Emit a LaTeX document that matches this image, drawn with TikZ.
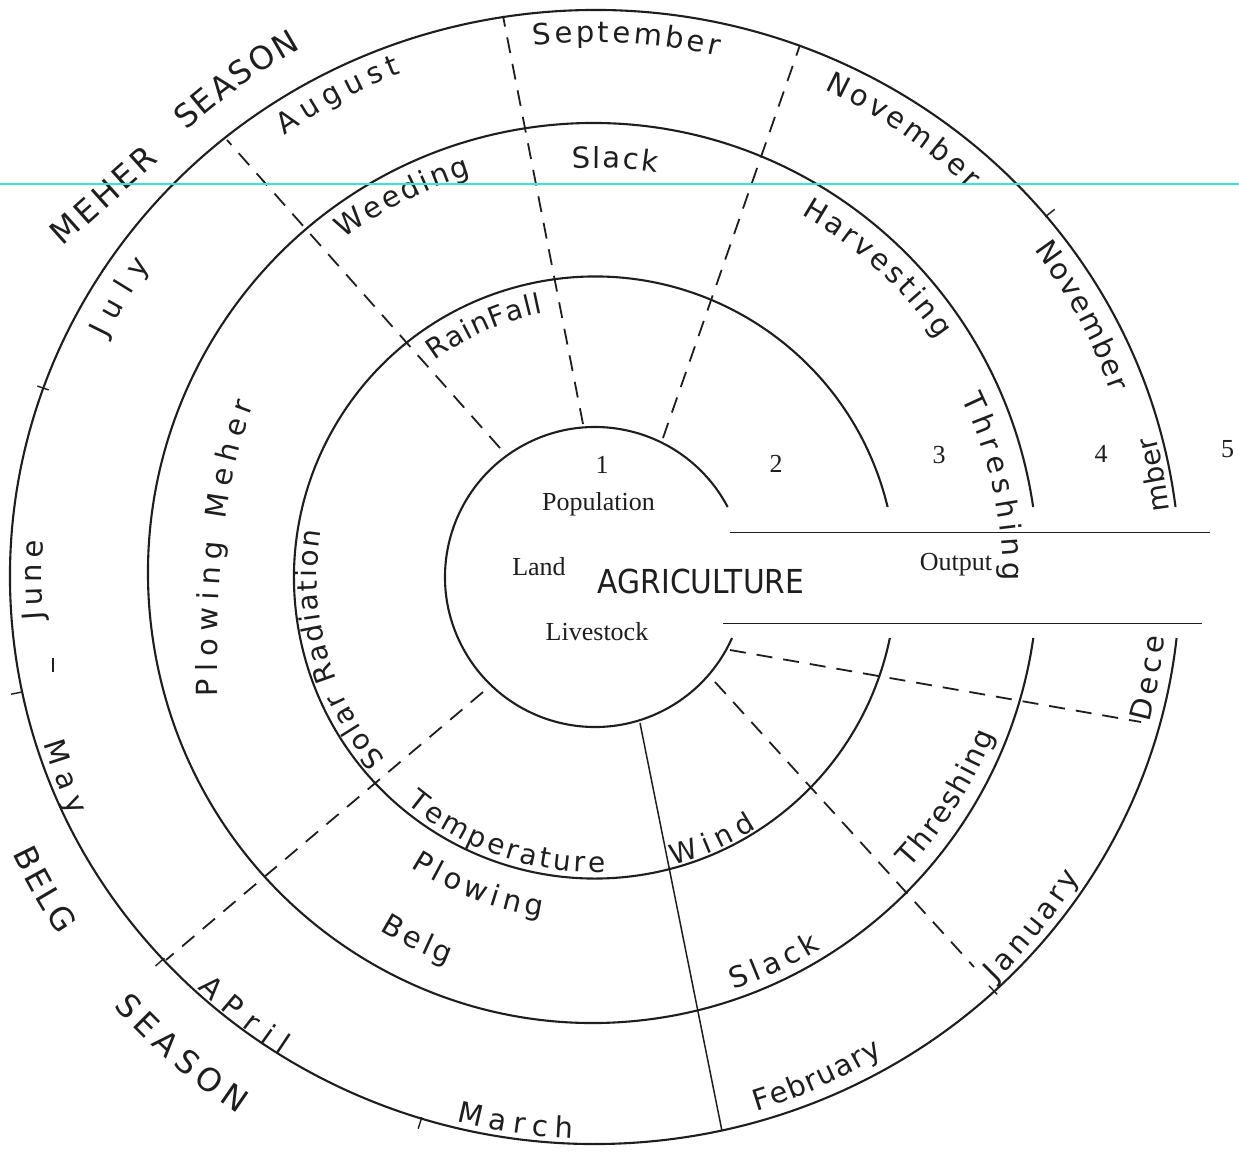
\documentclass[tikz,border=0pt]{standalone}
\usepackage{fontspec}
\usepackage{graphicx}
\setmainfont{Liberation Serif}
\newfontfamily\lett{DejaVu Sans}
\usetikzlibrary{decorations.text,calc}
\definecolor{guide}{RGB}{60,225,215}
\definecolor{ink}{RGB}{30,30,30}
\newcommand\ArcLbl[5]{\path[decorate,decoration={text along path,text align={fit to path},text color=ink,text={|\lett\fontsize{#5}{#5}\selectfont|#1}}] (#2:#4) arc[start angle=#2,end angle=#3,radius=#4];}
\tikzset{
  ring/.style={line width=2.1pt, draw=ink},
  dashline/.style={line width=1.8pt, dash pattern=on 16pt off 11pt, draw=ink},
  solidline/.style={line width=1.5pt, draw=ink},
  serif/.style={font=\fontsize{26}{28}\selectfont, anchor=base, text=ink, inner sep=0pt},
  tickmark/.style={line width=1.4pt, draw=ink}
}
\begin{document}
\begin{tikzpicture}[x=1pt,y=1pt]
\useasboundingbox (-595,577) rectangle (644,-575);
\fill[white] (-595,577) rectangle (644,-575);
\coordinate (C) at (0,0);

% circles (interrupted by the output channel)
\draw[ring] (27.8:150) arc[start angle=27.8, end angle=336, radius=150];
\draw[ring] (0,-0.5) ++(13.55:301) arc[start angle=13.55, end angle=348.4, radius=301];
\draw[ring] (-2,4) ++(8.43:445 and 450) arc[start angle=8.43, end angle=351.7, x radius=445, y radius=450];
\draw[ring] (7.09:585 and 567) arc[start angle=7.09, end angle=353.82, x radius=585, y radius=567];

% output channel
\coordinate (cha) at (135,44.5);  \coordinate (chb) at (615,44.5);
\coordinate (chc) at (128,-46.5); \coordinate (chd) at (607,-46.5);
\draw[solidline] (cha) -- (chb);
\draw[solidline] (chc) -- (chd);

% dashed dividers
\coordinate (d1a) at (-95,129);  \coordinate (d1b) at (-368,437);
\coordinate (d2a) at (-12,153);  \coordinate (d2b) at (-92,561);
\coordinate (d3a) at (68,139);   \coordinate (d3b) at (205,532);
\coordinate (d4a) at (-112,-115);\coordinate (d4b) at (-429,-383);
\coordinate (d5a) at (120,-105); \coordinate (d5b) at (379,-390);
\coordinate (d6a) at (135,-73);  \coordinate (d6b) at (546,-145);
\draw[dashline] (d1a) -- (d1b);
\draw[dashline] (d2a) -- (d2b);
\draw[dashline] (d3a) -- (d3b);
\draw[dashline] (d4a) -- (d4b);
\draw[dashline] (d5a) -- (d5b);
\draw[dashline] (d6a) -- (d6b);
% solid divider
\coordinate (s1a) at (45,-146); \coordinate (s1b) at (127,-554);
\draw[solidline] (s1a) -- (s1b);

% small ticks on the outer circle
\coordinate (t1) at (-552,189);
\coordinate (t2) at (-578,-116);
\coordinate (t3) at (-175,-546);
\coordinate (t4) at (455,364);
\coordinate (t5) at (398,-413);
\coordinate (t6) at (-435,-385);
\foreach \n in {t1,t2,t3,t4,t5,t6}
  \draw[tickmark] ($(\n)!-6pt!(C)$) -- ($(\n)!6pt!(C)$);
\coordinate (m1) at (-542,-81); \coordinate (m2) at (-542,-95);
\draw[tickmark] (m1) -- (m2);

% centre texts
\node[serif] (n1) at (7,104) {1};
\node[serif] (n2) at (181,105) {2};
\node[serif] (n3) at (344,114) {3};
\node[serif] (n4) at (506,115) {4};
\node[serif] (n5) at (632.5,120) {5};
\node[serif] (pop) at (3.5,67) {Population};
\node[serif] (land) at (-56,2) {Land};
\node[serif] (live) at (2,-63) {Livestock};
\node[serif] (out) at (361,7) {Output};
\node[anchor=base, inner sep=0pt, text=ink] (agri) at (106,-16) {\lett\fontsize{33}{36}\selectfont\scalebox{0.9}[1]{AGRICULTURE}};

% outer ring: months
\ArcLbl{September}{96.6}{76.7}{535}{29}
\ArcLbl{November}{64.8}{46}{539}{29}
\ArcLbl{November}{36.7}{19.7}{548}{29}
\ArcLbl{mber}{6.6}{14.1}{578}{28}
\ArcLbl{Dece}{-14.7}{-6}{573}{29}
\ArcLbl{January}{-45.3}{-31.7}{570}{29}
\ArcLbl{February}{-73.2}{-58.9}{558}{29}
\ArcLbl{March}{-104.3}{-92.3}{562}{29}
\ArcLbl{APril}{-134}{-123.3}{572}{29}
\ArcLbl{May}{-163.2}{-155.5}{576}{29}
\ArcLbl{June}{184.45}{176.2}{553}{29}
\ArcLbl{July}{154}{145}{543}{29}
\ArcLbl{August}{125.1}{111}{540}{29}

% seasons
\path[decorate,decoration={text along path,text align={fit to path},text color=ink,text={|\lett\fontsize{32}{32}\selectfont|MEHER}}] (-532,330) -- (-436,416);
\ArcLbl{SEASON}{132.5}{119.1}{605}{32}
\ArcLbl{BELG}{-154.6}{-146.2}{645}{32}
\ArcLbl{SEASON}{-138.3}{-123.6}{645}{32}

% third ring: activities
\ArcLbl{Weeding}{126.6}{107.1}{421}{29}
\ArcLbl{Slack}{93.2}{81.3}{409}{29}
\ArcLbl{Harvesting}{60.4}{34.7}{417}{29}
\ArcLbl{Threshing}{26.0}{-0.5}{408}{29}
\path[decorate,decoration={text along path,text align={fit to path},text color=ink,text={|\lett\fontsize{29}{29}\selectfont|Plowing Meher}}] (-377,-119) .. controls (-379,17) and (-370,97) .. (-341,173);
\ArcLbl{Plowing}{-122.4}{-98.9}{344}{29}
\ArcLbl{Belg}{-121.3}{-110.8}{414}{29}
\ArcLbl{Threshing}{-42.8}{-21.5}{429}{29}
\ArcLbl{Slack}{-71.4}{-58.7}{435}{29}

% second ring: climate
\ArcLbl{RainFall}{126.6}{101.2}{269}{28}
\ArcLbl{Solar Radiation}{221.1}{170.4}{278}{28}
\ArcLbl{Temperature}{-129.8}{-88}{295}{28}
\ArcLbl{Wind}{-74.8}{-57.3}{299}{28}

% cyan guide line across the scan
\draw[guide, line width=1.5pt] (-595,393) -- (644,393);
\end{tikzpicture}
\end{document}
